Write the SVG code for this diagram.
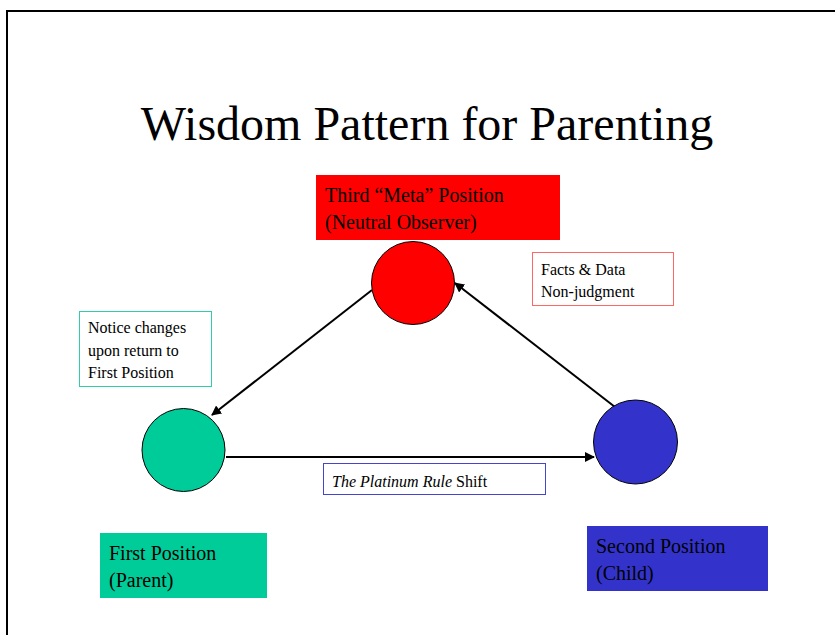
<svg xmlns="http://www.w3.org/2000/svg" width="835" height="635" viewBox="0 0 835 635">
<style>
text{font-family:'Liberation Serif','DejaVu Serif',serif;fill:#000}
.lbl{font-size:20px}
.sm{font-size:16px}
.node{stroke:#000;stroke-width:1}
.conn{stroke:#000;stroke-width:2;fill:none;marker-end:url(#ah)}
</style>
<defs>
<marker id="ah" viewBox="0 0 10 10" refX="9" refY="5" markerWidth="5" markerHeight="5" orient="auto" markerUnits="strokeWidth">
<path d="M0,0 L10,5 L0,10 z" fill="#000"/>
</marker>
</defs>
<rect x="0" y="0" width="835" height="635" fill="#fff"/>
<rect x="7" y="11" width="840" height="640" fill="none" stroke="#000" stroke-width="2"/>
<text x="427" y="140" font-size="48" text-anchor="middle" font-family="Liberation Serif, DejaVu Serif, serif">Wisdom Pattern for Parenting</text>
<g id="connectors">
<line class="conn" x1="226" y1="457" x2="594" y2="457"/>
<line class="conn" x1="615" y1="407" x2="455" y2="283"/>
<line class="conn" x1="372" y1="290" x2="212" y2="415"/>
</g>
<g id="third">
<rect x="316" y="175" width="244" height="65" fill="#ff0000"/>
<text class="lbl" x="325" y="202">Third “Meta” Position</text>
<text class="lbl" x="325" y="229">(Neutral Observer)</text>
<circle class="node" cx="413" cy="283" r="41.5" fill="#ff0000"/>
</g>
<g id="first">
<circle class="node" cx="183.5" cy="450" r="41.5" fill="#00cc99"/>
<rect x="100" y="533" width="167" height="65" fill="#00cc99"/>
<text class="lbl" x="109" y="560">First Position</text>
<text class="lbl" x="109" y="587">(Parent)</text>
</g>
<g id="second">
<circle class="node" cx="635.5" cy="442" r="42" fill="#3333cc"/>
<rect x="587" y="526" width="181" height="65" fill="#3333cc"/>
<text class="lbl" x="596" y="553">Second Position</text>
<text class="lbl" x="596" y="580">(Child)</text>
</g>
<g id="facts">
<rect x="532.5" y="252.5" width="141" height="53" fill="#fff" stroke="#ff6666" stroke-width="1"/>
<text class="sm" x="541" y="275">Facts &amp; Data</text>
<text class="sm" x="541" y="297">Non-judgment</text>
</g>
<g id="notice">
<rect x="79.5" y="311.5" width="132" height="75" fill="#fff" stroke="#33ccaa" stroke-width="1"/>
<text class="sm" x="88" y="333">Notice changes</text>
<text class="sm" x="88" y="356">upon return to</text>
<text class="sm" x="88" y="378">First Position</text>
</g>
<g id="platinum">
<rect x="323.5" y="463.5" width="222" height="31" fill="#fff" stroke="#4444cc" stroke-width="1"/>
<text class="sm" x="332" y="487"><tspan font-style="italic">The Platinum Rule</tspan> Shift</text>
</g>
</svg>
